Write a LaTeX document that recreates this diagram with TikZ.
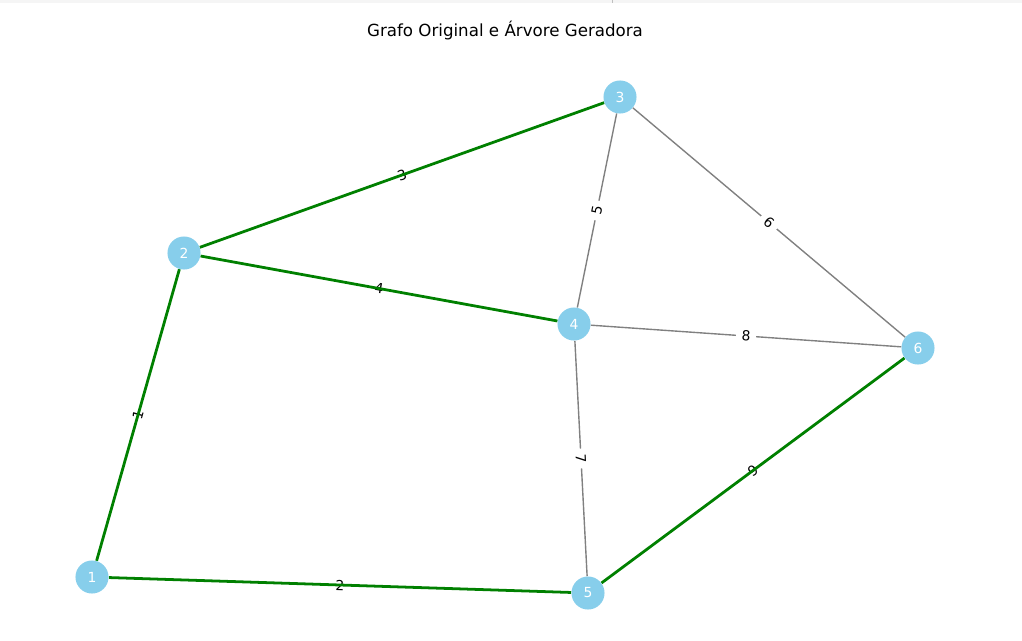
\documentclass[tikz,border=0pt]{standalone}
\usepackage{fontspec}
\setmainfont{DejaVu Sans}
\definecolor{skyblue}{HTML}{87CEEB}
\definecolor{mstgreen}{HTML}{008000}
\pgfdeclarelayer{edges}
\pgfsetlayers{edges,main}
\tikzset{
  vertex/.style={circle,fill=skyblue,text=white,minimum size=23.8pt,inner sep=0pt,font=\fontsize{10}{12}\selectfont},
  weight/.style={fill=white,inner xsep=4pt,inner ysep=3pt,sloped,midway,font=\fontsize{10}{12}\selectfont},
  graphedge/.style={draw=gray,line width=1pt},
  spanedge/.style={draw=mstgreen,line width=2pt},
}

\begin{document}
\begin{tikzpicture}[x=0.72pt,y=-0.72pt]
			\useasboundingbox (0,0) rectangle (1022,640);
			\fill[black!4] (0,0) rectangle (1022,3);
			\draw[black!25] (612,0) -- (612,3);
			\node[font=\fontsize{12}{14}\selectfont] (title) at (505,31) {Grafo Original e Árvore Geradora};
			\node[vertex] (n1) at (92,577) {1};
			\node[vertex] (n2) at (184,253) {2};
			\node[vertex] (n3) at (620,97) {3};
			\node[vertex] (n4) at (574,324) {4};
			\node[vertex] (n5) at (588,593) {5};
			\node[vertex] (n6) at (918,348) {6};
			\begin{pgfonlayer}{edges}
				\draw[graphedge] (n3) -- node[weight] {5} (n4);
				\draw[graphedge] (n3) -- node[weight] {6} (n6);
				\draw[graphedge] (n4) -- node[weight] {8} (n6);
				\draw[graphedge] (n4) -- node[weight] {7} (n5);
				% arvore geradora: pesos por baixo das arestas
				\path (n1) -- node[weight] {1} (n2);
				\path (n1) -- node[weight] {2} (n5);
				\path (n2) -- node[weight] {3} (n3);
				\path (n2) -- node[weight] {4} (n4);
				\path (n5) -- node[weight] {9} (n6);
				\draw[spanedge] (n1) -- (n2);
				\draw[spanedge] (n1) -- (n5);
				\draw[spanedge] (n2) -- (n3);
				\draw[spanedge] (n2) -- (n4);
				\draw[spanedge] (n5) -- (n6);
			\end{pgfonlayer}
		\end{tikzpicture}
\end{document}
